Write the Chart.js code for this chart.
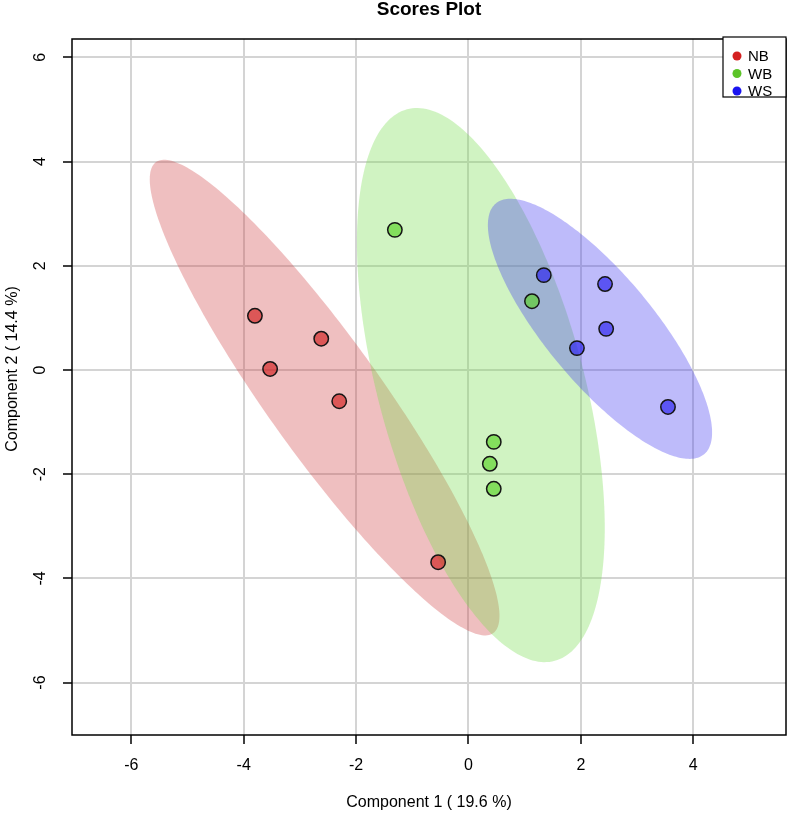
<!DOCTYPE html>
<html><head><meta charset="utf-8">
<script src="https://cdn.jsdelivr.net/npm/chart.js@4/dist/chart.umd.min.js"></script>
<style>html,body{margin:0;padding:0;background:#fff;overflow:hidden}#wrap{width:788px;height:814px;position:relative}</style>
</head><body><div id="wrap"><canvas id="c" width="788" height="814"></canvas></div>
<script>
// ---- data ----
const groups = ['NB', 'WB', 'WS'];
const nbX = [-3.80, -3.53, -2.62, -2.30, -0.54];
const nbY = [1.04, 0.02, 0.60, -0.60, -3.69];
const wbX = [-1.31, 1.13, 0.45, 0.38, 0.45];
const wbY = [2.69, 1.32, -1.38, -1.80, -2.28];
const wsX = [1.34, 2.43, 2.45, 1.93, 3.55];
const wsY = [1.82, 1.65, 0.79, 0.42, -0.71];
const xTicks = [-6, -4, -2, 0, 2, 4];
const yTicks = [-6, -4, -2, 0, 2, 4, 6];
// confidence ellipses (data units): centre and two conjugate semi-axis vectors
const ellCx = [-2.56, 0.22, 2.34];
const ellCy = [-0.53, -0.29, 0.79];
const ellUx = [3.00, 1.315, 1.853];
const ellUy = [-4.52, -5.293, -2.407];
const ellVx = [-0.825, -1.770, -0.739];
const ellVy = [-0.637, -0.512, -0.662];
const titleText = 'Scores Plot';
const xTitle = 'Component 1 ( 19.6 %)';
const yTitle = 'Component 2 ( 14.4 %)';

// ---- styles ----
const FONT = '"Liberation Sans", Arial, sans-serif';
const ellFill = ['rgba(205,60,65,0.33)', 'rgba(120,220,80,0.35)', 'rgba(70,60,240,0.35)'];
const ptFill = ['rgba(210,30,30,0.65)', 'rgba(90,210,40,0.65)', 'rgba(40,30,240,0.65)'];
const legendDot = ['#d42020', '#5cc428', '#1a14f0'];

const xs = [nbX, wbX, wsX], ys = [nbY, wbY, wsY];
const datasets = groups.map((g, i) => ({
  label: g,
  data: xs[i].map((v, k) => ({x: v, y: ys[i][k]})),
  backgroundColor: ptFill[i],
  borderColor: '#151515',
  borderWidth: 1.5,
  pointRadius: 7.2,
  pointHoverRadius: 7.2
}));

const ellipsePlugin = {
  id: 'ellipses',
  beforeDatasetsDraw(chart) {
    const {ctx, chartArea: a, scales: {x, y}} = chart;
    ctx.save();
    ctx.beginPath(); ctx.rect(a.left, a.top, a.right - a.left, a.bottom - a.top); ctx.clip();
    for (let i = 0; i < ellCx.length; i++) {
      ctx.beginPath();
      for (let k = 0; k <= 240; k++) {
        const t = k / 240 * 2 * Math.PI;
        const vx = ellCx[i] + ellUx[i] * Math.cos(t) + ellVx[i] * Math.sin(t);
        const vy = ellCy[i] + ellUy[i] * Math.cos(t) + ellVy[i] * Math.sin(t);
        const px = x.getPixelForValue(vx), py = y.getPixelForValue(vy);
        if (k) ctx.lineTo(px, py); else ctx.moveTo(px, py);
      }
      ctx.closePath();
      ctx.fillStyle = ellFill[i];
      ctx.fill();
    }
    ctx.restore();
  }
};

const decorPlugin = {
  id: 'decor',
  afterDraw(chart) {
    const {ctx, chartArea: a, scales: {y}} = chart;
    ctx.save();
    // frame
    ctx.strokeStyle = '#000'; ctx.lineWidth = 1.5;
    ctx.strokeRect(a.left, a.top, a.right - a.left, a.bottom - a.top);
    const cx = (a.left + a.right) / 2;
    ctx.fillStyle = '#000';
    ctx.textAlign = 'center'; ctx.textBaseline = 'middle';
    // title
    ctx.font = 'bold 19px ' + FONT;
    ctx.fillText(titleText, cx, 10);
    // x title
    ctx.font = '16px ' + FONT;
    ctx.fillText(xTitle, cx, 803);
    // y title
    ctx.save(); ctx.translate(13, 369); ctx.rotate(-Math.PI / 2);
    ctx.fillText(yTitle, 0, 0); ctx.restore();
    // y tick labels (rotated, R style)
    yTicks.forEach(v => {
      ctx.save(); ctx.translate(41, y.getPixelForValue(v)); ctx.rotate(-Math.PI / 2);
      ctx.fillText(String(v), 0, 0); ctx.restore();
    });
    // legend
    const lx = 723, ly = 37, lw = a.right - lx, lh = 60;
    ctx.fillStyle = '#fff';
    ctx.fillRect(lx, ly, lw, lh);
    ctx.strokeStyle = '#000'; ctx.lineWidth = 1.2;
    ctx.strokeRect(lx, ly, lw, lh);
    ctx.font = '15px ' + FONT; ctx.textAlign = 'left';
    groups.forEach((g, i) => {
      const yy = ly + 19 + i * 17.5;
      ctx.beginPath(); ctx.arc(737, yy, 4.5, 0, 2 * Math.PI);
      ctx.fillStyle = legendDot[i]; ctx.fill();
      ctx.fillStyle = '#000';
      ctx.fillText(g, 748, yy + 1);
    });
    ctx.restore();
  }
};

const gridOpts = {color: '#d4d4d4', lineWidth: 2, tickColor: '#000', tickWidth: 1.5, tickLength: 9, drawTicks: true};

new Chart(document.getElementById('c'), {
  type: 'scatter',
  data: {datasets},
  options: {
    responsive: false,
    devicePixelRatio: 1,
    animation: false,
    layout: {autoPadding: false, padding: {top: 39, right: 2, left: 0, bottom: 0}},
    plugins: {legend: {display: false}, tooltip: {enabled: false}, title: {display: false}},
    scales: {
      x: {
        type: 'linear', min: -7.055, max: 5.65,
        afterBuildTicks: s => { s.ticks = xTicks.map(v => ({value: v})); },
        afterFit: s => { s.height = 79; s.paddingLeft = 0; s.paddingRight = 0; },
        grid: gridOpts,
        border: {display: false},
        ticks: {color: '#000', font: {size: 16, family: FONT}, padding: 12, maxRotation: 0, minRotation: 0}
      },
      y: {
        type: 'linear', min: -7.006, max: 6.353,
        afterBuildTicks: s => { s.ticks = yTicks.map(v => ({value: v})); },
        afterFit: s => { s.width = 72; s.paddingTop = 0; s.paddingBottom = 0; },
        grid: gridOpts,
        border: {display: false},
        ticks: {display: false}
      }
    }
  },
  plugins: [ellipsePlugin, decorPlugin]
});
</script>
</body></html>
